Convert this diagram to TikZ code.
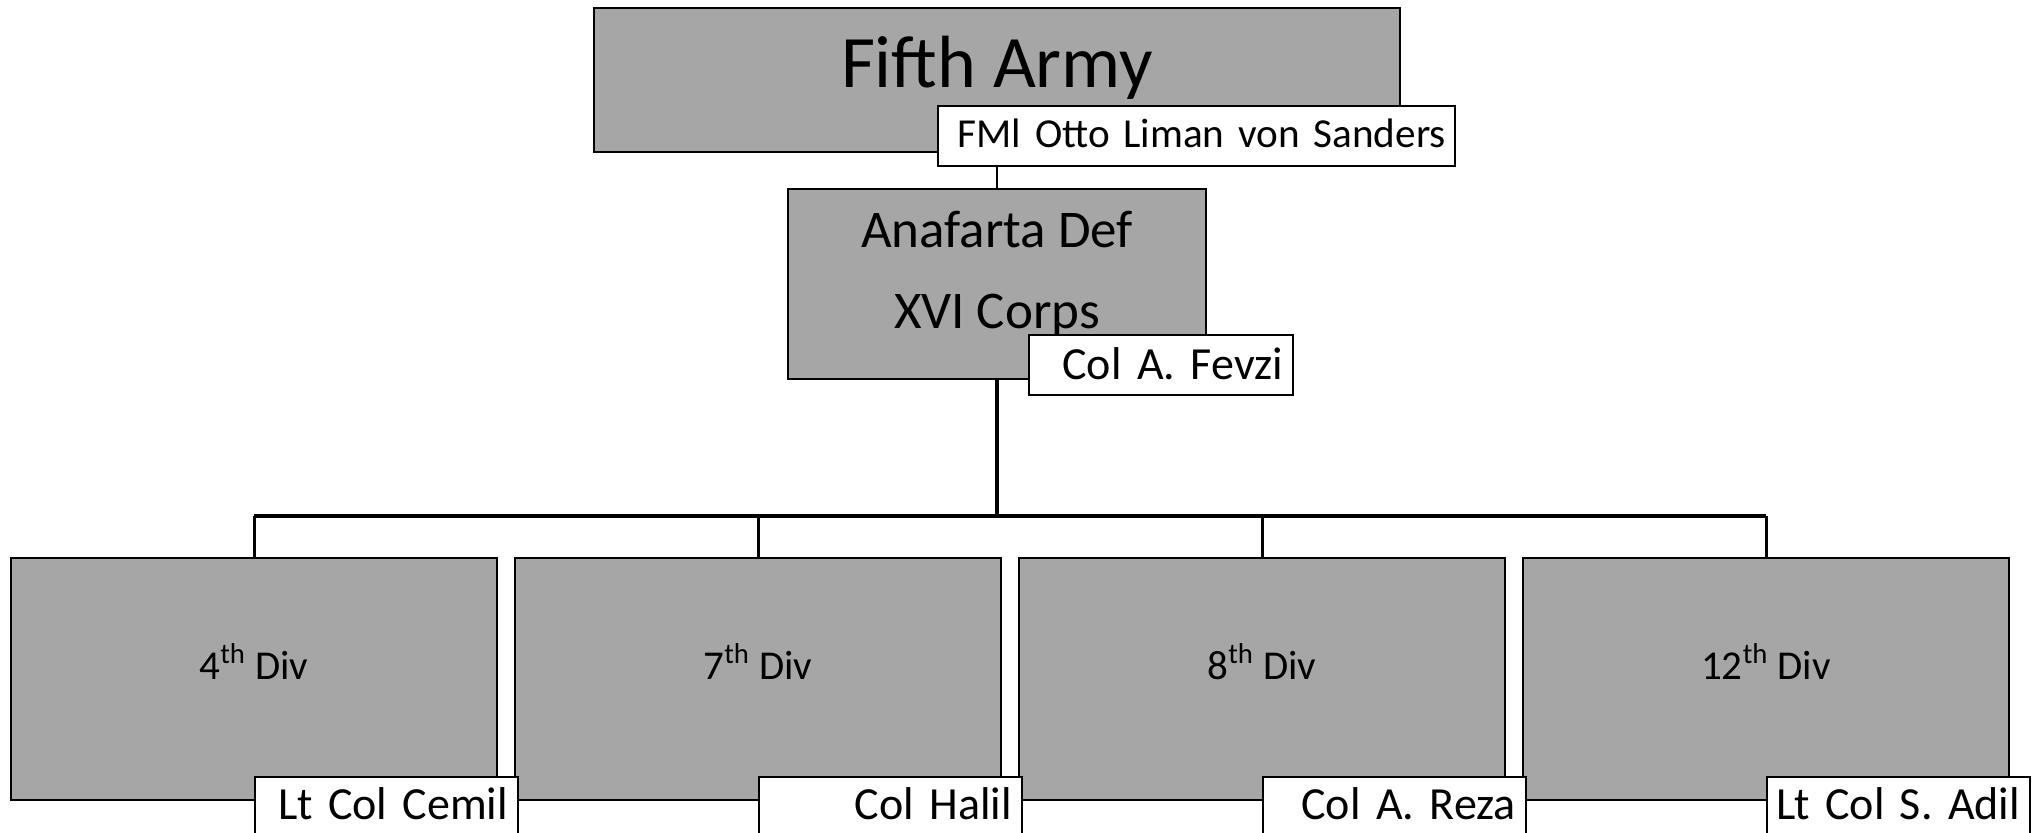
\documentclass[tikz,border=0pt]{standalone}
\usepackage{fontspec}
\setmainfont{Carlito}
\usetikzlibrary{positioning, backgrounds}
\definecolor{boxgray}{RGB}{166,166,166}
\newcommand{\rname}[1]{\makebox[\hsize][r]{#1}}

\begin{document}
\begin{tikzpicture}[
    x=0.5pt, y=-0.5pt,
    node distance=8pt,
    box/.style={rectangle, draw, line width=1pt, fill=boxgray, inner sep=0pt, align=center},
    divbox/.style={box, minimum width=243pt, minimum height=121pt,
                   font=\fontsize{20.5pt}{24pt}\selectfont, text height=10pt, text depth=10pt},
    namebox/.style={rectangle, draw, line width=1pt, fill=white, inner xsep=5pt, inner ysep=0pt,
                    minimum height=30pt, anchor=north west},
    divname/.style={namebox, text width=121.5pt, font=\fontsize{23pt}{27pt}\selectfont,
                    text height=16pt, text depth=4pt},
    trunk/.style={line width=1.75pt},
    branch/.style={line width=1.5pt}
]
\useasboundingbox (0,0) rectangle (2038,833);

% Army and corps
\node[box, minimum width=403pt, minimum height=72pt, font=\fontsize{37pt}{43pt}\selectfont,
      text height=26pt, text depth=18pt] (army) at (997,80) {Fifth Army};
\node[box, minimum width=209pt, minimum height=95pt, font=\fontsize{26.5pt}{40.5pt}\selectfont,
      text height=45pt, text depth=0pt] (anaf) at (997,284) {Anafarta Def\\XVI Corps};

% Divisions
\node[divbox] (d4) at (254,679) {4\textsuperscript{th} Div};
\node[divbox, right=of d4] (d7)  {7\textsuperscript{th} Div};
\node[divbox, right=of d7] (d8)  {8\textsuperscript{th} Div};
\node[divbox, right=of d8] (d12) {12\textsuperscript{th} Div};

% Commanders
\node[namebox, text width=249.5pt, font=\fontsize{20.6pt}{25pt}\selectfont,
      text height=15pt, text depth=3.5pt, inner xsep=4.5pt]
      (armyname) at ([xshift=-30pt, yshift=24pt]army.south) {\rname{FMl Otto Liman von Sanders}};
\node[namebox, text width=122pt, font=\fontsize{23pt}{27pt}\selectfont,
      text height=17.5pt, text depth=2.8pt]
      (anafname) at ([xshift=15.5pt, yshift=23pt]anaf.south) {\rname{Col A. Fevzi}};
\node[divname] (d4name)  at ([yshift=12.5pt]d4.south)  {\rname{Lt Col Cemil}};
\node[divname] (d7name)  at ([yshift=12.5pt]d7.south)  {\rname{Col Halil}};
\node[divname] (d8name)  at ([yshift=12.5pt]d8.south)  {\rname{Col A. Reza}};
\node[divname] (d12name) at ([yshift=12.5pt]d12.south) {\rname{Lt Col S. Adil}};

% Connectors
\coordinate (bar) at (997,516);
\begin{scope}[on background layer]
    \draw[line width=1.25pt] (army) -- (anaf);
\end{scope}
\draw[trunk] (anaf.south) -- (bar);
\draw[trunk] (d4.north |- bar) -- (d12.north |- bar);
\draw[branch] (d4.north |- bar)  -- (d4);
\draw[branch] (d7.north |- bar)  -- (d7);
\draw[branch] (d8.north |- bar)  -- (d8);
\draw[branch] (d12.north |- bar) -- (d12);
\end{tikzpicture}
\end{document}
